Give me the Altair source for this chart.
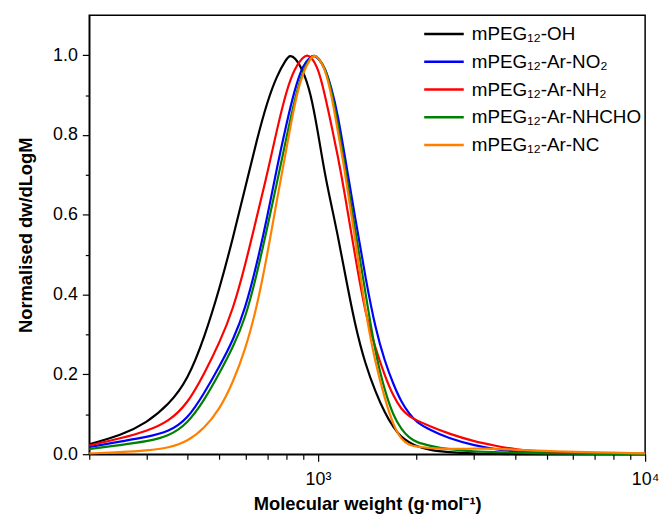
import altair as alt
import pandas as pd

# Molecular weight grid (g/mol) shared by all series
mw_grid = [200, 250, 300, 350, 400, 450, 500, 550, 600, 650, 700, 750, 800, 850, 900, 950,
           1000, 1050, 1100, 1150, 1200, 1300, 1400, 1500, 1600, 1700, 1800, 1900, 2000,
           2200, 2500, 3000, 3500, 4000, 5000, 6000, 8000, 10000]

oh = [0.025, 0.047, 0.079, 0.124, 0.186, 0.293, 0.414, 0.542, 0.669, 0.787, 0.884, 0.950,
      0.990, 0.995, 0.962, 0.906, 0.807, 0.701, 0.623, 0.548, 0.468,
      0.320, 0.222, 0.156, 0.104, 0.067, 0.042, 0.030, 0.020, 0.010, 0.005, 0.002, 0.001,
      0.0, 0.0, 0.0, 0.0, 0.0]
no2 = [0.018, 0.032, 0.043, 0.056, 0.088, 0.154, 0.220, 0.285, 0.365, 0.475, 0.594, 0.720,
       0.826, 0.916, 0.977, 0.996, 0.993, 0.970, 0.918, 0.851, 0.762,
       0.591, 0.438, 0.313, 0.233, 0.175, 0.130, 0.102, 0.080, 0.061, 0.040, 0.022, 0.012,
       0.007, 0.004, 0.002, 0.001, 0.001]
nh2 = [0.022, 0.040, 0.058, 0.082, 0.127, 0.203, 0.279, 0.362, 0.475, 0.594, 0.703, 0.815,
       0.910, 0.969, 0.995, 0.997, 0.970, 0.901, 0.824, 0.747, 0.667,
       0.494, 0.347, 0.265, 0.197, 0.145, 0.112, 0.095, 0.085, 0.070, 0.052, 0.032, 0.021,
       0.012, 0.006, 0.004, 0.002, 0.001]
nhcho = [0.013, 0.023, 0.032, 0.045, 0.077, 0.136, 0.203, 0.268, 0.340, 0.450, 0.567, 0.682,
         0.792, 0.891, 0.963, 0.995, 0.995, 0.970, 0.913, 0.829, 0.739,
         0.562, 0.400, 0.250, 0.159, 0.096, 0.062, 0.041, 0.030, 0.021, 0.012, 0.007, 0.005,
         0.004, 0.002, 0.001, 0.001, 0.0]
nc = [0.002, 0.005, 0.009, 0.016, 0.032, 0.065, 0.112, 0.180, 0.262, 0.367, 0.499, 0.640,
      0.762, 0.883, 0.958, 0.993, 0.995, 0.968, 0.901, 0.809, 0.725,
      0.541, 0.350, 0.226, 0.139, 0.072, 0.036, 0.023, 0.019, 0.015, 0.013, 0.014, 0.014,
      0.011, 0.008, 0.006, 0.004, 0.002]

series_names = ["mPEG₁₂-OH", "mPEG₁₂-Ar-NO₂", "mPEG₁₂-Ar-NH₂", "mPEG₁₂-Ar-NHCHO", "mPEG₁₂-Ar-NC"]
series_colors = ["#000000", "#0000FF", "#FF0000", "#008000", "#FF8000"]
peak_mw = [820, 970, 925, 978, 972]
peak_val = [1.0, 1.0, 1.0, 1.0, 1.0]

x_ticks = [200, 300, 400, 500, 600, 700, 800, 900, 1000,
           2000, 3000, 4000, 5000, 6000, 7000, 8000, 9000, 10000]
y_ticks = [0.0, 0.1, 0.2, 0.3, 0.4, 0.5, 0.6, 0.7, 0.8, 0.9, 1.0]

rows = []
for name, vals, pk, pv in zip(series_names, [oh, no2, nh2, nhcho, nc], peak_mw, peak_val):
    pts = sorted(list(zip(mw_grid, vals)) + [(pk, pv)])
    for m, v in pts:
        rows.append({"series": name, "mw": m, "value": v})
df = pd.DataFrame(rows)

FONT = "Liberation Sans"

chart = alt.Chart(df).mark_line(strokeWidth=2.2, interpolate="basis").encode(
    x=alt.X(
        "mw:Q",
        scale=alt.Scale(type="log", domain=[200, 10000], nice=False),
        axis=alt.Axis(
            values=x_ticks,
            labelExpr="datum.value == 1000 ? '10³' : (datum.value == 10000 ? '10⁴' : '')",
            tickSize={"condition": {"test": "datum.value == 1000 || datum.value == 10000", "value": 7}, "value": 5},
            labelFlush=False,
            labelOverlap=False,
            labelPadding=10,
            title="Molecular weight (g·mol⁻¹)",
            titlePadding=6,
            grid=False,
        ),
    ),
    y=alt.Y(
        "value:Q",
        scale=alt.Scale(domain=[0, 1.1], nice=False, zero=False),
        axis=alt.Axis(
            values=y_ticks,
            labelExpr="round(datum.value * 10) % 2 == 0 ? format(datum.value, '.1f') : ''",
            tickSize={"condition": {"test": "round(datum.value * 10) % 2 == 0", "value": 7}, "value": 4},
            labelPadding=5,
            labelOverlap=False,
            title="Normalised dw/dLogM",
            titlePadding=17,
            grid=False,
        ),
    ),
    color=alt.Color(
        "series:N",
        sort=series_names,
        scale=alt.Scale(domain=series_names, range=series_colors),
        legend=alt.Legend(
            title=None,
            orient="none",
            legendX=340,
            legendY=1,
            symbolType="M-1.21,0H1.21",
            symbolSize=1089,
            symbolStrokeWidth=2.5,
            labelFontSize=19,
            labelFont=FONT,
            labelColor="black",
            labelOffset=10,
            labelLimit=400,
            rowPadding=0,
            padding=0,
        ),
    ),
).properties(
    width=561,
    height=443,
    autosize=alt.AutoSizeParams(type="none"),
    padding={"left": 82, "top": 5, "right": 14, "bottom": 58},
).configure_view(
    stroke="black", strokeWidth=1.5
).configure_axis(
    domainColor="black", domainWidth=1.5, tickColor="black", tickWidth=1.2,
    labelFont=FONT, labelFontSize=18, labelColor="black",
    titleFont=FONT, titleFontSize=18.5, titleFontWeight="bold", titleColor="black",
)

chart.save("out.html", embed_options={"renderer": "svg", "actions": False})
